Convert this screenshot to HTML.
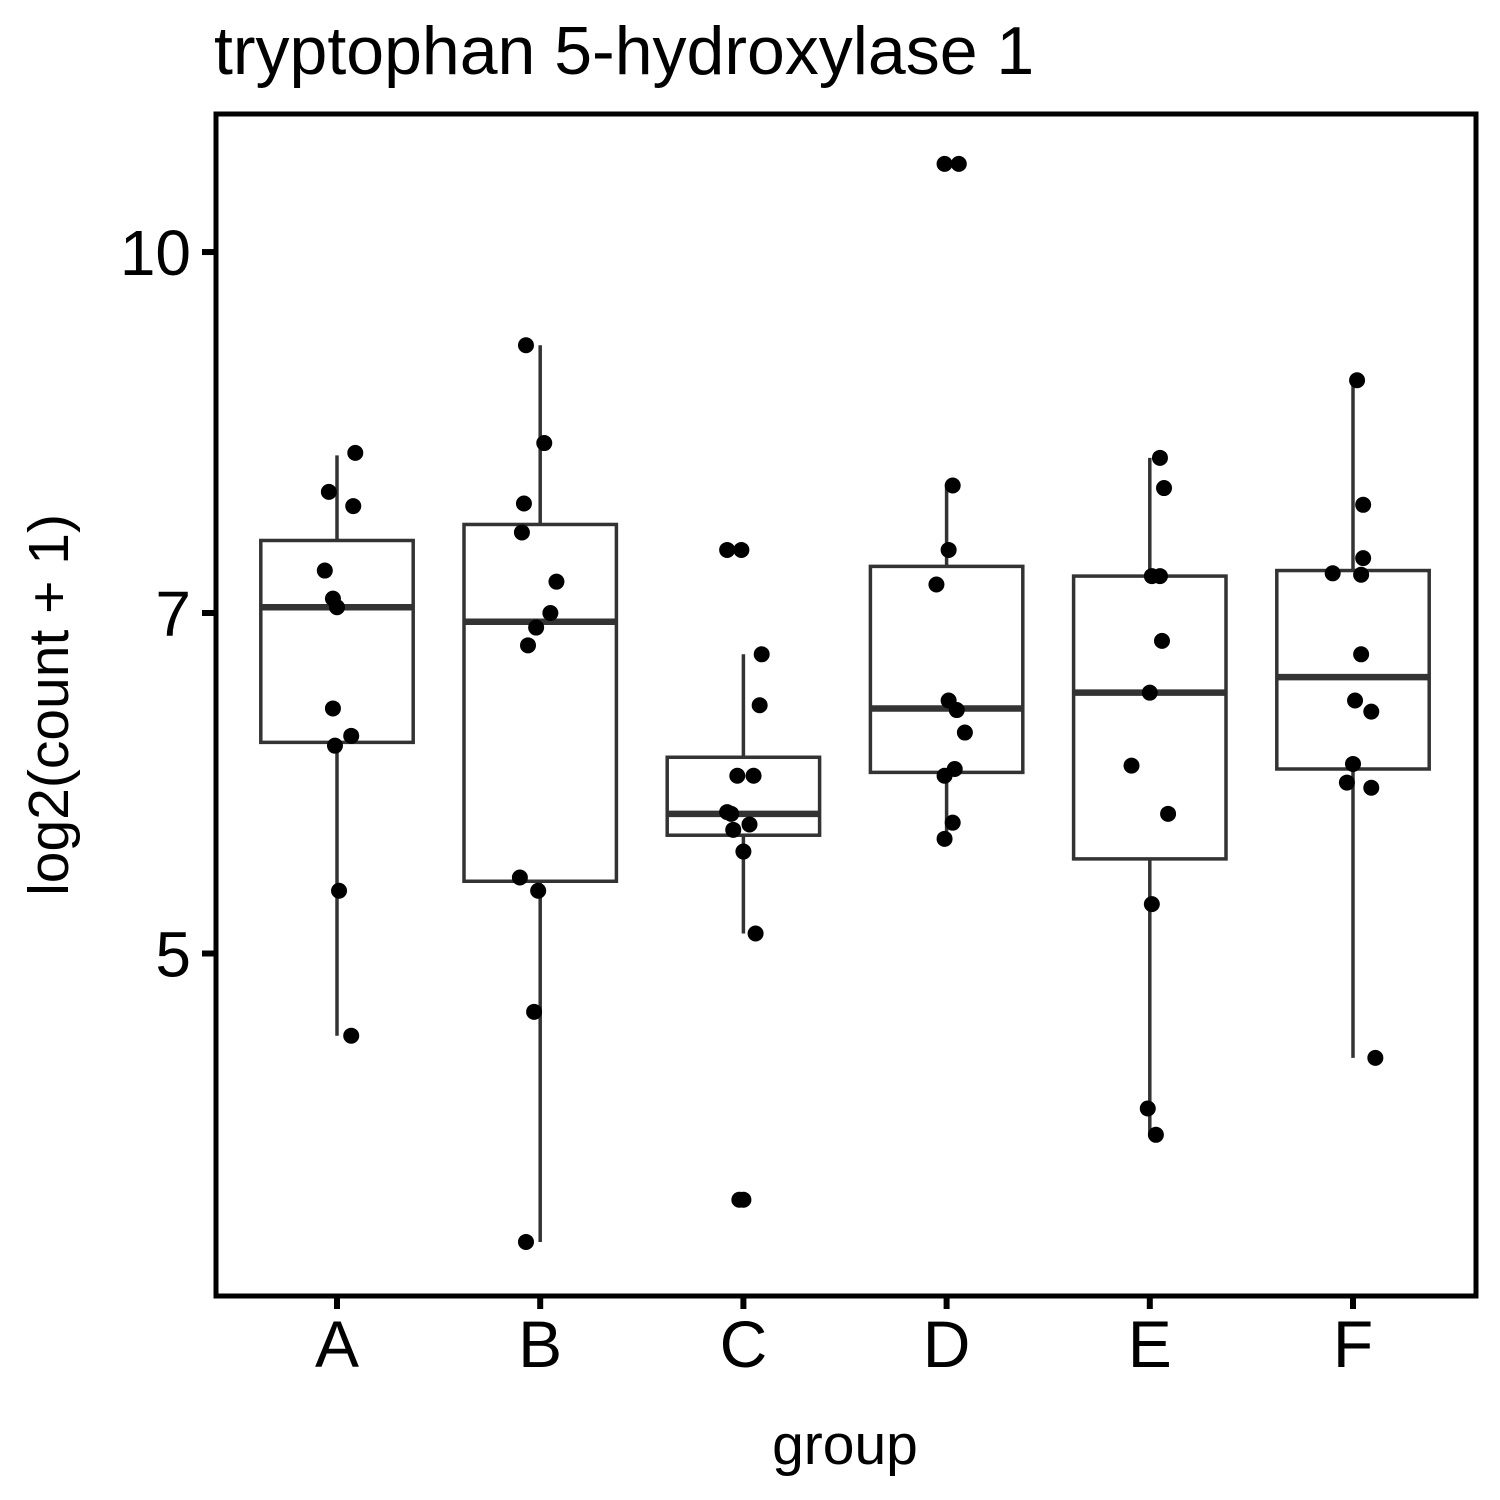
<!DOCTYPE html>
<html><head><meta charset="utf-8"><style>
html,body{margin:0;padding:0;background:#fff;}
svg{display:block;font-family:"Liberation Sans",Arial,sans-serif;}
</style></head><body>
<svg id="chart" width="1500" height="1500" viewBox="0 0 1500 1500" xmlns="http://www.w3.org/2000/svg">
<rect width="1500" height="1500" fill="#fff"/>
<text x="214" y="74" font-size="68" fill="#000">tryptophan 5-hydroxylase 1</text>
<g id="plot"></g>
<rect x="216" y="114" width="1260" height="1182" fill="none" stroke="#000" stroke-width="5"/>
<text x="845" y="1464" font-size="57" text-anchor="middle" fill="#000">group</text>
<text transform="translate(68,705) rotate(-90)" font-size="57" text-anchor="middle" fill="#000">log2(count + 1)</text>
</svg>
<script>
const categories = ["A","B","C","D","E","F"];
const boxLower = [6.16, 5.37, 5.62, 5.98, 5.49, 6.00];
const boxMedian = [7.04, 6.94, 5.74, 6.37, 6.47, 6.57];
const boxUpper = [7.52, 7.64, 6.07, 7.33, 7.26, 7.30];
const whiskerLow = [4.61, 3.76, 5.10, 5.60, 4.18, 4.51];
const whiskerHigh = [8.18, 9.12, 6.72, 7.94, 8.16, 8.81];
const pointsA = [7.89, 8.20, 7.78, 7.30, 7.10, 7.04, 6.37, 6.20, 6.14, 5.32, 4.61];
const pointsB = [9.12, 8.28, 7.80, 7.58, 7.22, 7.00, 6.90, 6.78, 5.39, 5.32, 4.72, 3.76];
const pointsC = [7.45, 7.45, 6.72, 6.39, 5.96, 5.96, 5.75, 5.74, 5.68, 5.65, 5.53, 5.10, 3.92, 3.92];
const pointsD = [10.91, 10.91, 7.94, 7.45, 7.20, 6.42, 6.36, 6.22, 6.00, 5.96, 5.69, 5.60];
const pointsE = [8.16, 7.92, 7.26, 7.26, 6.81, 6.47, 6.02, 5.74, 5.25, 4.29, 4.18];
const pointsF = [8.81, 7.79, 7.39, 7.28, 7.27, 6.72, 6.42, 6.35, 6.03, 5.92, 5.89, 4.51];
const jitterA = [-0.04,0.09,0.08,-0.06,-0.02,0,-0.02,0.07,-0.01,0.01,0.07];
const jitterB = [-0.07,0.02,-0.08,-0.09,0.08,0.05,-0.02,-0.06,-0.1,-0.01,-0.03,-0.07];
const jitterC = [-0.08,-0.01,0.09,0.08,-0.03,0.05,-0.08,-0.06,0.03,-0.05,0,0.06,-0.02,0];
const jitterD = [-0.01,0.06,0.03,0.01,-0.05,0.01,0.05,0.09,0.04,-0.01,0.03,-0.01];
const jitterE = [0.05,0.07,0.01,0.05,0.06,0,-0.09,0.09,0.01,-0.01,0.03];
const jitterF = [0.02,0.05,0.05,-0.1,0.04,0.04,0.01,0.09,0,-0.03,0.09,0.11];
const yTicks = [5, 7, 10];
const allPoints = [pointsA,pointsB,pointsC,pointsD,pointsE,pointsF];
const allJitter = [jitterA,jitterB,jitterC,jitterD,jitterE,jitterF];

const NS="http://www.w3.org/2000/svg";
const g=document.getElementById('plot');
const band=203.2, x0=337;
function xScale(i){return x0+i*band;}
function yScale(v){return 613-1012*Math.log(v/7);}
function mk(tag,attrs){const e=document.createElementNS(NS,tag);for(const k in attrs)e.setAttribute(k,attrs[k]);g.appendChild(e);return e;}
const bw=band*0.75;
categories.forEach((c,i)=>{
  const cx=xScale(i);
  let w=mk('line',{x1:cx,x2:cx,y1:yScale(whiskerHigh[i]),y2:yScale(boxUpper[i]),stroke:'#333','stroke-width':3.5});
  
  
  w=mk('line',{x1:cx,x2:cx,y1:yScale(boxLower[i]),y2:yScale(whiskerLow[i]),stroke:'#333','stroke-width':3.5});
  
  
  const b=mk('rect',{x:cx-bw/2,y:yScale(boxUpper[i]),width:bw,height:yScale(boxLower[i])-yScale(boxUpper[i]),fill:'#fff',stroke:'#333','stroke-width':3.5});
  
  
  const m=mk('line',{x1:cx-bw/2,x2:cx+bw/2,y1:yScale(boxMedian[i]),y2:yScale(boxMedian[i]),stroke:'#333','stroke-width':6.5});
  
  
  allPoints[i].forEach((v,j)=>{
    const p=mk('circle',{cx:cx+allJitter[i][j]*band,cy:yScale(v),r:8,fill:'#000'});
    
    
  });
  const t=mk('line',{x1:cx,x2:cx,y1:1296,y2:1309,stroke:'#000','stroke-width':6});
  
  
  const l=mk('text',{x:cx,y:1367,'font-size':66,'text-anchor':'middle',fill:'#000'});
  l.textContent=c;
  
  
});
yTicks.forEach(v=>{
  const y=yScale(v);
  const t=mk('line',{x1:202,x2:216,y1:y,y2:y,stroke:'#000','stroke-width':6});
  
  
  const l=mk('text',{x:191,y:y+23,'font-size':64,'text-anchor':'end',fill:'#000'});
  l.textContent=v;
  
  
});
</script>
</body></html>
